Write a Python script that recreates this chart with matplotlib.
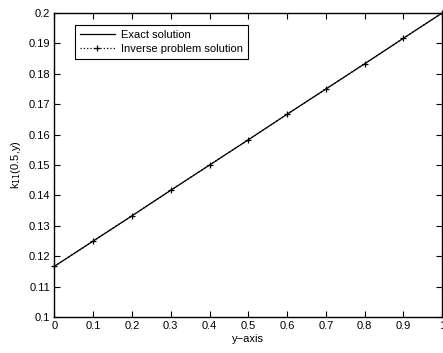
import matplotlib
matplotlib.use("Agg")
from matplotlib import pyplot as plt
import numpy as np

y_pos = [0.0, 0.1, 0.2, 0.3, 0.4, 0.5, 0.6, 0.7, 0.8, 0.9, 1.0]
exact = [0.1167, 0.1250, 0.1333, 0.1417, 0.1500, 0.1583, 0.1667, 0.1750, 0.1833, 0.1917, 0.2000]
inverse = [0.1167, 0.1250, 0.1333, 0.1417, 0.1500, 0.1583, 0.1667, 0.1750, 0.1833, 0.1917, 0.2000]

plt.rcParams['font.family'] = ['Liberation Sans', 'DejaVu Sans']
plt.rcParams['font.size'] = 8

fig = plt.figure(figsize=(4.43, 3.53), dpi=100)
ax = fig.add_axes([0.123, 0.102, 0.875, 0.861])

ax.plot(y_pos, exact, color='black', linewidth=0.9, label='Exact solution')
ax.plot(y_pos, inverse, color='black', linestyle=':', linewidth=0.9, marker='+',
        markersize=5, markeredgewidth=0.9, label='Inverse problem solution', clip_on=False)

ax.set_xlim(0, 1)
ax.set_ylim(0.1, 0.2)
ax.set_xticks(np.arange(0, 1.01, 0.1))
ax.set_yticks(np.arange(0.1, 0.2001, 0.01))
ax.set_xticklabels(['0', '0.1', '0.2', '0.3', '0.4', '0.5', '0.6', '0.7', '0.8', '0.9', '1'])
ax.set_yticklabels(['0.1', '0.11', '0.12', '0.13', '0.14', '0.15', '0.16', '0.17', '0.18', '0.19', '0.2'])
ax.tick_params(direction='in', top=True, right=True, length=4, width=0.8, pad=3)
for s in ax.spines.values():
    s.set_linewidth(1.0)

ax.set_xlabel('y\u2212axis', labelpad=2)
ax.set_ylabel('k$_{11}$(0.5,y)', labelpad=4)

leg = ax.legend(loc='upper left', bbox_to_anchor=(0.052, 0.96), fancybox=False, framealpha=1,
                edgecolor='black', handlelength=3.2, borderpad=0.45, labelspacing=0.35,
                handletextpad=0.5, borderaxespad=0)
leg.get_frame().set_linewidth(0.8)

fig.savefig("out.png", dpi=100)
